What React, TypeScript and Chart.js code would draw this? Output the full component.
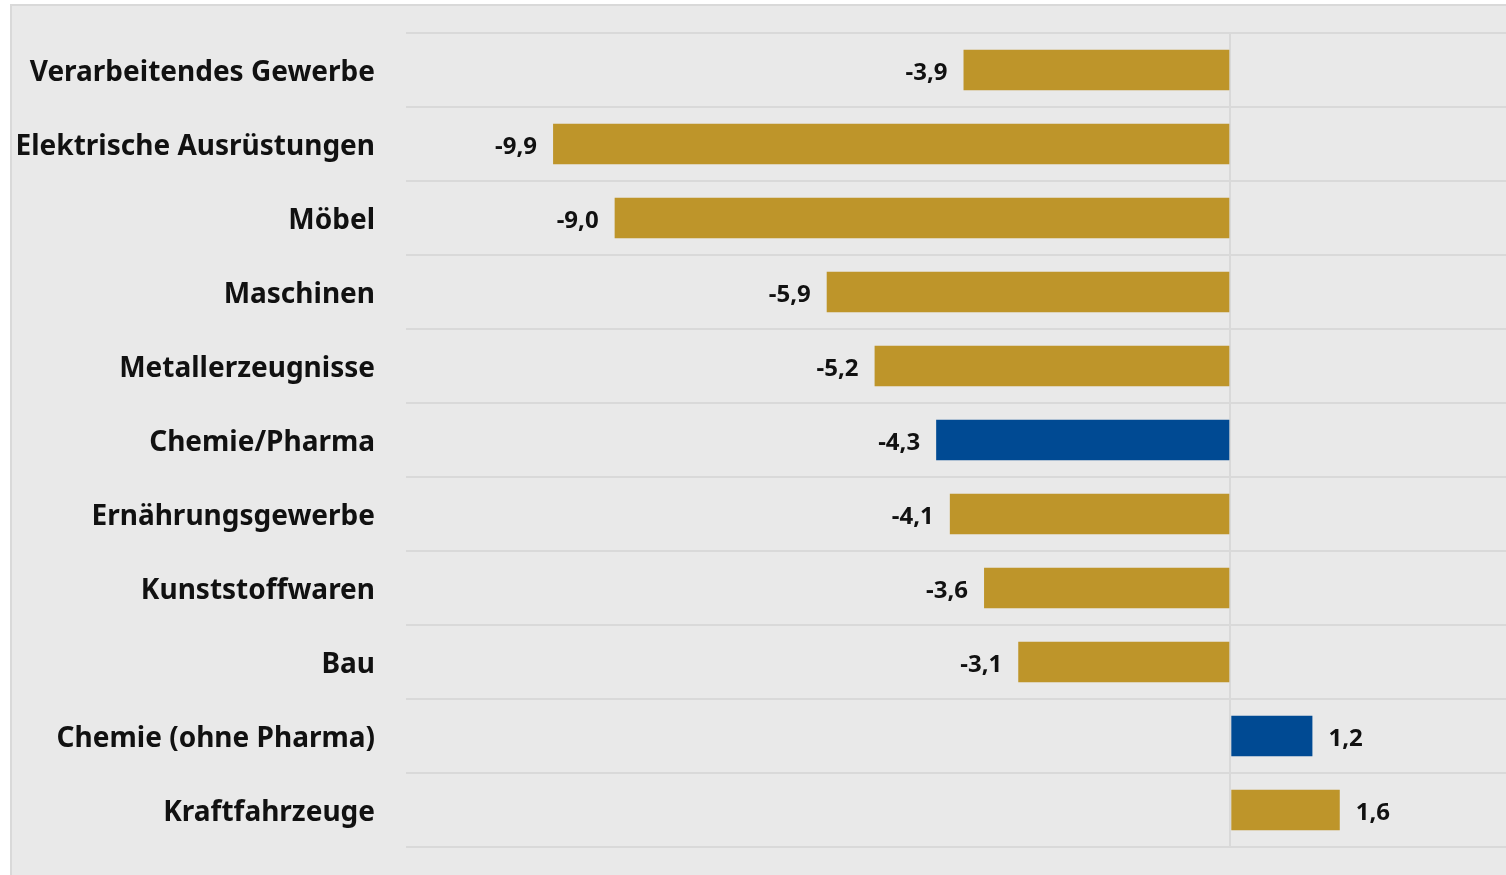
import React, { useEffect, useRef } from "react";
import { Chart, registerables } from "chart.js";

Chart.register(...registerables);

const categories = [
  "Verarbeitendes Gewerbe",
  "Elektrische Ausrüstungen",
  "Möbel",
  "Maschinen",
  "Metallerzeugnisse",
  "Chemie/Pharma",
  "Ernährungsgewerbe",
  "Kunststoffwaren",
  "Bau",
  "Chemie (ohne Pharma)",
  "Kraftfahrzeuge",
];
const values = [-3.9, -9.9, -9.0, -5.9, -5.2, -4.3, -4.1, -3.6, -3.1, 1.2, 1.6];
const highlighted = [false, false, false, false, false, true, false, false, false, true, false];

const GOLD = "#be952a";
const BLUE = "#004a93";
const BG = "#e9e9e9";
const LINE = "#d9d9d9";
const FONT = "'Noto Sans'";

const fmt = (v: number) => v.toFixed(1).replace(".", ",");

const backgroundPlugin = {
  id: "bgBox",
  beforeDraw(chart: any) {
    const { ctx, width, height } = chart;
    ctx.save();
    ctx.fillStyle = "#ffffff";
    ctx.fillRect(0, 0, width, height);
    ctx.fillStyle = BG;
    ctx.fillRect(10, 4, width, height);
    ctx.strokeStyle = LINE;
    ctx.lineWidth = 2;
    ctx.strokeRect(11, 5, width + 10, height + 10);
    ctx.restore();
  },
};

const valueLabelPlugin = {
  id: "valueLabels",
  afterDatasetsDraw(chart: any) {
    const { ctx } = chart;
    const meta = chart.getDatasetMeta(0);
    ctx.save();
    ctx.font = `bold 24px ${FONT}`;
    ctx.fillStyle = "#111111";
    ctx.textBaseline = "middle";
    meta.data.forEach((bar: any, i: number) => {
      const v = values[i];
      if (v < 0) {
        ctx.textAlign = "right";
        ctx.fillText(fmt(v), bar.x - 16, bar.y + 3);
      } else {
        ctx.textAlign = "left";
        ctx.fillText(fmt(v), bar.x + 16, bar.y + 3);
      }
    });
    ctx.restore();
  },
};

export default function App() {
  const ref = useRef<HTMLCanvasElement | null>(null);

  useEffect(() => {
    if (!ref.current) return;
    const chart = new Chart(ref.current, {
      type: "bar",
      data: {
        labels: categories,
        datasets: [
          {
            data: values,
            backgroundColor: highlighted.map((h) => (h ? BLUE : GOLD)),
            barPercentage: 0.55,
            categoryPercentage: 1,
            borderWidth: 0,
          },
        ],
      },
      options: {
        indexAxis: "y",
        animation: false,
        responsive: false,
        maintainAspectRatio: false,
        layout: { padding: { top: 33, bottom: 28, left: 0, right: 0 } },
        plugins: {
          legend: { display: false },
          tooltip: { enabled: false },
        },
        scales: {
          x: {
            min: -12.05,
            max: 4.03,
            ticks: { display: false, stepSize: 4 },
            border: { display: false },
            grid: {
              drawTicks: false,
              lineWidth: 2,
              color: (c: any) => (c.tick && c.tick.value === 0 ? LINE : "rgba(0,0,0,0)"),
            },
            afterFit: (scale: any) => {
              scale.height = 0;
              scale.paddingLeft = 0;
              scale.paddingRight = 0;
            },
          },
          y: {
            border: { display: false },
            grid: {
              offset: true,
              drawTicks: false,
              lineWidth: 2,
              color: LINE,
            },
            ticks: {
              padding: 31,
              labelOffset: 3,
              color: "#111111",
              font: { family: FONT, weight: "bold", size: 28 },
            },
            afterFit: (scale: any) => {
              scale.width = 406;
              scale.paddingTop = 0;
              scale.paddingBottom = 0;
            },
          },
        },
      },
      plugins: [backgroundPlugin, valueLabelPlugin],
    });
    return () => chart.destroy();
  }, []);

  return (
    <div style={{ position: "absolute", left: 0, top: 0, width: 1506, height: 875 }}>
      <canvas ref={ref} width={1506} height={875} style={{ width: 1506, height: 875, display: "block" }} />
    </div>
  );
}
